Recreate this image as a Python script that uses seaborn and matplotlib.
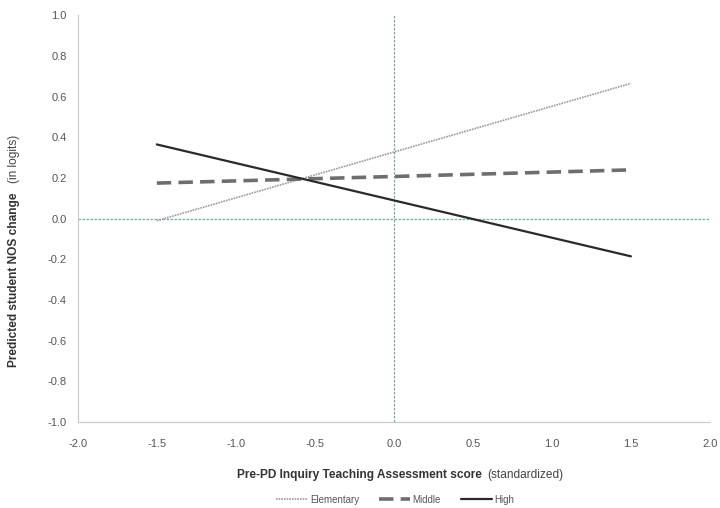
import matplotlib
matplotlib.use("Agg")
import matplotlib.pyplot as plt
import seaborn as sns
import pandas as pd
from matplotlib.lines import Line2D

sns.set_style("white")
plt.rcParams['font.family'] = ['Liberation Sans', 'DejaVu Sans']

x_vals = [-1.5, 1.5]
elementary = [-0.01, 0.665]
middle = [0.175, 0.24]
high = [0.365, -0.185]
series_names = ["Elementary", "Middle", "High"]
x_ticks = [-2.0, -1.5, -1.0, -0.5, 0.0, 0.5, 1.0, 1.5, 2.0]
y_ticks = [-1.0, -0.8, -0.6, -0.4, -0.2, 0.0, 0.2, 0.4, 0.6, 0.8, 1.0]

df = pd.DataFrame({
    "x": x_vals * 3,
    "y": elementary + middle + high,
    "level": [n for n in series_names for _ in x_vals],
})

fig = plt.figure(figsize=(7.2, 5.08), dpi=100)
ax = fig.add_axes([0.108, 0.169, 0.878, 0.801])

ax.axhline(0, color="#6fb0a0", lw=0.9, ls=(0, (2, 1.2)), zorder=1)
ax.axvline(0, color="#6fb0a0", lw=0.9, ls=(0, (2, 1.2)), zorder=1)

palette = {"Elementary": "#9a9a9a", "Middle": "#6e6e6e", "High": "#2a2a2a"}
dashes = {"Elementary": (1, 0.6), "Middle": (4, 2), "High": ""}
widths = {"Elementary": 1.2, "Middle": 2.6, "High": 1.6}
for name in series_names:
    sub = df[df["level"] == name]
    sns.lineplot(data=sub, x="x", y="y", ax=ax, color=palette[name],
                 lw=widths[name], dashes=False, legend=False, zorder=3,
                 **({"linestyle": (0, dashes[name])} if dashes[name] else {}))

ax.set_xlim(-2, 2)
ax.set_ylim(-1, 1)
ax.set_xticks(x_ticks)
ax.set_yticks(y_ticks)
ax.set_xticklabels([f"{t:.1f}" for t in x_ticks])
ax.set_yticklabels([f"{t:.1f}" for t in y_ticks])
ax.tick_params(axis="both", labelsize=8, colors="#cccccc", labelcolor="#555555",
               length=3, width=0.8, direction="out")
ax.tick_params(axis="x", pad=9)
ax.tick_params(axis="y", pad=5)
for side in ["top", "right"]:
    ax.spines[side].set_visible(False)
for side in ["left", "bottom"]:
    ax.spines[side].set_color("#cccccc")
    ax.spines[side].set_linewidth(0.9)
ax.set_xlabel("")
ax.set_ylabel("")

# x label
fig.text(0.669, 0.065, "Pre-PD Inquiry Teaching Assessment score", fontsize=8.6,
         fontweight="bold", color="#333333", ha="right", va="center")
fig.text(0.677, 0.065, "(standardized)", fontsize=8.6, color="#444444",
         ha="left", va="center")
# y label
fig.text(0.02, 0.45, "Predicted student NOS change", fontsize=8.6, fontweight="bold",
         color="#333333", rotation=90, ha="center", va="center")
fig.text(0.02, 0.688, "(in logits)", fontsize=8.6, color="#444444",
         rotation=90, ha="center", va="center")

# legend
handles = [
    Line2D([], [], color=palette["Elementary"], lw=1.2, ls=(0, dashes["Elementary"])),
    Line2D([], [], color=palette["Middle"], lw=2.6, ls=(0, dashes["Middle"])),
    Line2D([], [], color=palette["High"], lw=1.6),
]
fig.legend(handles, series_names, loc="center", bbox_to_anchor=(0.549, 0.016),
           ncol=3, frameon=False, fontsize=7, handlelength=3.2, columnspacing=2.0,
           handletextpad=0.3, labelcolor="#555555")

fig.savefig("out.png", dpi=100)
